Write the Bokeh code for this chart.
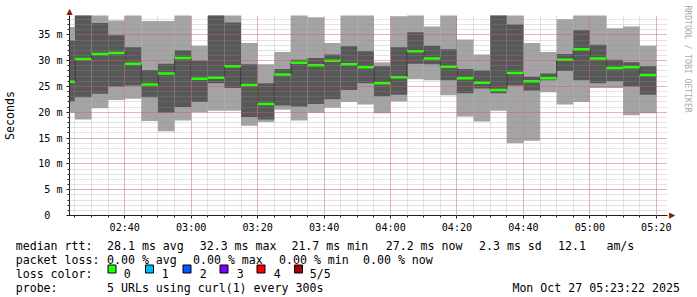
from datetime import datetime, timezone
from bokeh.plotting import figure
from bokeh.layouts import column
from bokeh.models import (FixedTicker, DatetimeTickFormatter, Title, Range1d, ColumnDataSource)
from bokeh.core.properties import value
from bokeh.embed import file_html
from bokeh.resources import INLINE

# ---------------- data ----------------
DAY = (2025, 10, 27)
bar_starts = ["02:20", "02:25", "02:30", "02:35", "02:40", "02:45", "02:50", "02:55",
              "03:00", "03:05", "03:10", "03:15", "03:20", "03:25", "03:30", "03:35",
              "03:40", "03:45", "03:50", "03:55", "04:00", "04:05", "04:10", "04:15",
              "04:20", "04:25", "04:30", "04:35", "04:40", "04:45", "04:50", "04:55",
              "05:00", "05:05", "05:10", "05:15"]
# five pings per step: min, 2nd, median, 4th, max (ms)
rtt_min = [19.9, 18.6, 20.8, 22.4, 22.6, 18.3, 16.3, 18.4, 20.0, 20.3,
           20.3, 17.4, 18.1, 20.5, 18.4, 19.9, 20.9, 22.0, 21.5, 19.8,
           22.1, 26.4, 26.2, 23.3, 19.2, 18.2, 20.3, 14.0, 14.5, 23.9,
           21.5, 22.0, 24.7, 24.7, 19.4, 19.8]
rtt_lo = [22.1, 22.9, 23.6, 25.0, 25.2, 22.9, 19.9, 21.0, 22.0, 25.6,
          24.7, 19.1, 18.6, 21.3, 21.1, 21.6, 22.5, 24.3, 25.6, 23.1,
          23.4, 29.4, 29.3, 26.2, 23.7, 24.6, 23.7, 25.2, 24.2, 26.2,
          28.0, 26.2, 25.6, 26.0, 25.0, 23.4]
rtt_median = [25.9, 30.3, 31.3, 31.5, 29.4, 25.4, 27.5, 30.5, 26.5, 26.7,
              28.9, 25.3, 21.6, 27.3, 29.6, 29.1, 30.0, 29.3, 28.7, 25.6,
              26.8, 31.8, 30.4, 28.8, 26.6, 25.7, 24.3, 27.6, 26.0, 26.6,
              30.2, 32.2, 30.4, 28.6, 28.7, 27.2]
rtt_hi = [33.9, 40.0, 37.3, 34.9, 32.6, 28.2, 29.4, 32.0, 30.0, 40.5,
          37.4, 29.3, 25.6, 28.4, 30.2, 30.5, 31.2, 32.8, 31.8, 28.9,
          32.6, 35.5, 32.9, 32.2, 28.4, 28.1, 40.0, 37.0, 26.9, 27.5,
          31.3, 35.9, 33.1, 30.2, 29.7, 28.9]
rtt_max = [36.5, 42.0, 40.5, 37.8, 40.0, 37.7, 37.7, 40.0, 32.9, 42.0,
           41.0, 33.4, 29.3, 31.7, 40.0, 38.4, 33.4, 40.0, 40.0, 29.7,
           38.6, 40.0, 36.6, 40.0, 34.1, 31.2, 42.0, 40.0, 33.4, 31.7,
           38.0, 40.0, 40.0, 36.3, 36.6, 32.9]

x_tick_times = ["02:40", "03:00", "03:20", "03:40", "04:00", "04:20", "04:40", "05:00", "05:20"]
window = ("02:23:22", "05:23:22")
y_ticks = [0, 5, 10, 15, 20, 25, 30, 35]
y_tick_labels = ["0\u00a0\u00a0", "5 m", "10 m", "15 m", "20 m", "25 m", "30 m", "35 m"]
y_top = 38.75

rtt_title = "median rtt:"
rtt_stats = ["28.1 ms avg", "32.3 ms max", "21.7 ms min", "27.2 ms now", "2.3 ms sd", "12.1", "am/s"]
loss_title = "packet loss:"
loss_stats = ["0.00 % avg", "0.00 % max", "0.00 % min", "0.00 % now"]
color_title = "loss color:"
loss_labels = ["0", "1", "2", "3", "4", "5/5"]
loss_colors = ["#26ff00", "#00b8ff", "#0059ff", "#7e00ff", "#ff0000", "#a00000"]
probe_title = "probe:"
probe_text = "5 URLs using curl(1) every 300s"
stamp = "Mon Oct 27 05:23:22 2025"
watermark = "RRDTOOL / TOBI OETIKER"


def to_ms(hms):
    parts = [int(v) for v in hms.split(":")]
    while len(parts) < 3:
        parts.append(0)
    d = datetime(DAY[0], DAY[1], DAY[2], parts[0], parts[1], parts[2], tzinfo=timezone.utc)
    return d.timestamp() * 1000.0


STEP = 5 * 60 * 1000.0
left = [to_ms(s) for s in bar_starts]
right = [v + STEP for v in left]

src = ColumnDataSource(dict(left=left, right=right, mn=rtt_min, lo=rtt_lo,
                            med=rtt_median, hi=rtt_hi, mx=rtt_max))
conn = ColumnDataSource(dict(x=left[1:], y0=rtt_median[:-1], y1=rtt_median[1:]))

# ---------------- layout ----------------
W, H = 697, 297
FL, FR, FT, FB = 67, 667, 15, 215   # frame in canvas pixels
MAIN_H = 235
FONT = "DejaVu Sans Mono"
AX = "#1f1f1f"
ARROW = "#801f1f"

p = figure(width=W, height=MAIN_H, output_backend="svg", toolbar_location=None,
           x_axis_type="datetime",
           x_range=Range1d(to_ms(window[0]), to_ms(window[1])),
           y_range=Range1d(0, y_top),
           min_border_left=FL, min_border_right=W - FR,
           min_border_top=FT, min_border_bottom=MAIN_H - FB)
p.outline_line_color = None
p.background_fill_color = "white"
p.border_fill_color = "white"

# smoke
p.quad(left="left", right="right", bottom="mn", top="mx", source=src,
       fill_color="#a4a4a4", line_color=None)
p.quad(left="left", right="right", bottom="lo", top="hi", source=src,
       fill_color="#585858", line_color=None)
# median step connectors and median bands
p.segment(x0="x", x1="x", y0="y0", y1="y1", source=conn, line_color="#202020", line_width=1)
p.segment(x0="left", x1="right", y0="med", y1="med", source=src,
          line_color=loss_colors[0], line_width=2.5, line_cap="butt")

# axes
x_major = [to_ms(t) for t in x_tick_times]
x_minor = []
t = to_ms("02:25")
while t <= to_ms(window[1]):
    x_minor.append(t)
    t += STEP
xt = FixedTicker(ticks=x_major, minor_ticks=x_minor)
p.xaxis.ticker = xt
fmt = "%H:%M"
p.xaxis.formatter = DatetimeTickFormatter(seconds=fmt, minsec=fmt, minutes=fmt,
                                          hourmin=fmt, hours=fmt, days=fmt)
yt = FixedTicker(ticks=y_ticks, minor_ticks=list(range(0, 39)))
p.yaxis.ticker = yt
p.yaxis.major_label_overrides = {v: s for v, s in zip(y_ticks, y_tick_labels)}

for ax in (p.xaxis[0], p.yaxis[0]):
    ax.axis_line_color = AX
    ax.major_tick_line_color = AX
    ax.minor_tick_line_color = AX
    ax.major_tick_in = 0
    ax.minor_tick_in = 0
    ax.major_tick_out = 3
    ax.minor_tick_out = 2
    ax.major_label_text_font = FONT
    ax.major_label_text_font_size = "10.1px"
    ax.major_label_text_color = "black"
p.xaxis.major_label_standoff = 3
p.yaxis.major_label_standoff = 4
p.yaxis.axis_label = "Seconds"
p.yaxis.axis_label_text_font = FONT
p.yaxis.axis_label_text_font_size = "11.6px"
p.yaxis.axis_label_text_font_style = "normal"
p.yaxis.axis_label_text_color = "black"
p.yaxis.axis_label_standoff = 18

# grid (rrdtool paints it over the graph)
for g, tk in ((p.xgrid[0], xt), (p.ygrid[0], yt)):
    g.ticker = tk
    g.level = "annotation"
    g.grid_line_color = "#de4f4f"
    g.grid_line_alpha = 0.6
    g.grid_line_dash = "1 1"
    g.minor_grid_line_color = "#8f8f8f"
    g.minor_grid_line_alpha = 0.5
    g.minor_grid_line_dash = "1 1"

# arrow heads at the axis ends and the watermark live in the side panels
p.add_layout(Title(text="\u25b2", align="left", offset=-3.1, vertical_align="bottom",
                   standoff=0, text_font="DejaVu Sans", text_font_size="8px",
                   text_font_style="normal", text_color=ARROW), "above")
p.add_layout(Title(text="\u25b2", align="right", offset=-3.1, vertical_align="bottom",
                   standoff=0, text_font="DejaVu Sans", text_font_size="8px",
                   text_font_style="normal", text_color=ARROW), "right")
p.add_layout(Title(text=watermark, align="left", offset=-10, vertical_align="middle",
                   standoff=6, text_font=FONT, text_font_size="8.1px",
                   text_font_style="normal", text_color="#aaaaaa"), "right")

# ---------------- legend block (pixel coordinates of the canvas) ----------------
LH = H - MAIN_H
lg = figure(width=W, height=LH, output_backend="svg", toolbar_location=None,
            x_range=Range1d(0, W), y_range=Range1d(H, MAIN_H),
            x_axis_location=None, y_axis_location=None,
            min_border_left=0, min_border_right=0, min_border_top=0, min_border_bottom=0,
            frame_width=W, frame_height=LH)
if "frame_align" in lg.properties():
    lg.frame_align = False
    p.frame_align = False
lg.outline_line_color = None
lg.grid.visible = False
lg.background_fill_color = "white"
lg.border_fill_color = "white"

rows = [245, 259, 273.3, 287.3]
tx, ty, tt = [], [], []


def put(text, X, base):
    tx.append(X - 0.8)
    ty.append(base)
    tt.append(text)


put(rtt_title, 16, rows[0])
for s, X in zip(rtt_stats, [107.3, 200, 291.7, 386, 479.3, 558.3, 606.7]):
    put(s, X, rows[0])
put(loss_title, 16, rows[1])
for s, X in zip(loss_stats, [107.3, 193.3, 279.3, 363.3]):
    put(s, X, rows[1])
put(color_title, 16, rows[2])
box_x = [107.5, 145, 182.5, 219.5, 256.5, 294]
for s, LX in zip(loss_labels, [124, 162, 200, 237, 274, 310]):
    put(s, LX, rows[2])
put(probe_title, 16, rows[3])
put(probe_text, 107.3, rows[3])
put(stamp, 512.7, rows[3])

lg.text(x=tx, y=ty, text=tt, text_font=value(FONT), text_font_size=value("11.6px"),
        text_color="black", text_baseline="alphabetic", text_align="left")
lg.quad(left=box_x, right=[b + 8 for b in box_x], top=[264.5] * 6, bottom=[272.5] * 6,
        fill_color=loss_colors, line_color="black", line_width=1)

page = column(p, lg, spacing=0)
open("out.html", "w").write(file_html(page, INLINE))
